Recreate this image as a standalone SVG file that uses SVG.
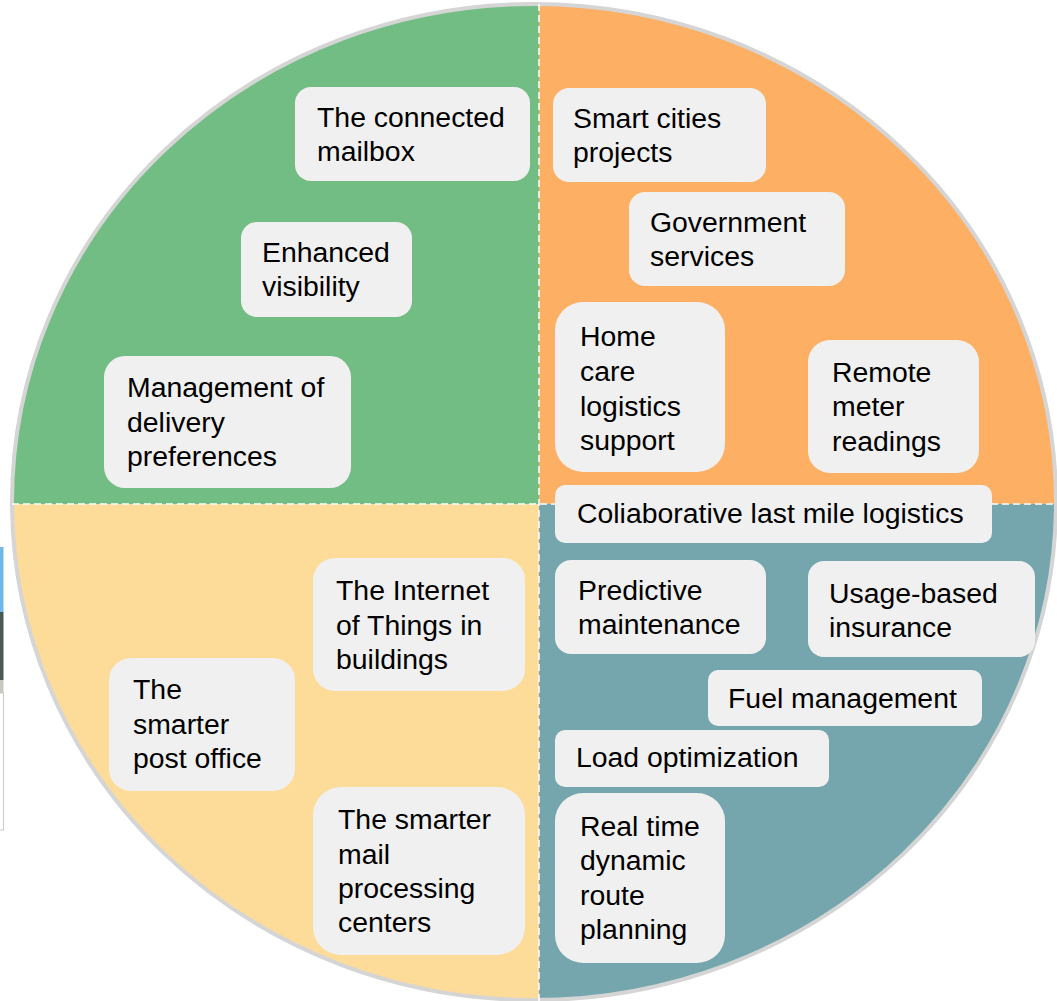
<svg xmlns="http://www.w3.org/2000/svg" width="1057" height="1001" viewBox="0 0 1057 1001">
<style>
.box{fill:#f0f0f0}
.t{font-family:"Liberation Sans",Arial,sans-serif;font-size:28.4px;fill:#000}
.div{stroke:#ffffff;stroke-width:1.5;stroke-dasharray:7 4;fill:none}
</style>
<defs>
<clipPath id="disc"><ellipse cx="534" cy="502" rx="522" ry="498"/></clipPath>
</defs>
<rect width="1057" height="1001" fill="#ffffff"/>
<g id="photo-fragment">
<rect x="0" y="547" width="3.5" height="65" fill="#6fb7e6"/>
<rect x="0" y="612" width="3.5" height="68" fill="#4a5a50"/>
<rect x="0" y="680" width="3.5" height="13" fill="#c8c8c0"/>
<rect x="-2" y="693" width="5.5" height="137" fill="#ffffff" stroke="#cfcfcf" stroke-width="1.2"/>
</g>
<g id="disc-quadrants" clip-path="url(#disc)">
<rect x="0" y="0" width="539" height="504" fill="#72bd83"/>
<rect x="539" y="0" width="520" height="504" fill="#fdaf63"/>
<rect x="0" y="504" width="539" height="500" fill="#fddb98"/>
<rect x="539" y="504" width="520" height="500" fill="#75a6ad"/>
</g>
<ellipse cx="534" cy="502" rx="522" ry="498" fill="none" stroke="#d5d5d5" stroke-width="4"/>
<g id="connectors">
<line class="div" x1="539" y1="4" x2="539" y2="1001"/>
<line class="div" x1="12" y1="504" x2="1057" y2="504"/>
</g>
<g id="n-connected-mailbox">
<rect class="box" x="295" y="87" width="235" height="94" rx="16"/>
<text class="t" x="317" y="127">The connected</text>
<text class="t" x="317" y="161">mailbox</text>
</g>
<g id="n-enhanced-visibility">
<rect class="box" x="241" y="222" width="171" height="95" rx="16"/>
<text class="t" x="262" y="262">Enhanced</text>
<text class="t" x="262" y="296">visibility</text>
</g>
<g id="n-delivery-preferences">
<rect class="box" x="104" y="356" width="247" height="132" rx="21"/>
<text class="t" x="127" y="397">Management of</text>
<text class="t" x="127" y="432">delivery</text>
<text class="t" x="127" y="466">preferences</text>
</g>
<g id="n-smart-cities">
<rect class="box" x="553" y="88" width="213" height="94" rx="16"/>
<text class="t" x="573" y="128">Smart cities</text>
<text class="t" x="573" y="162">projects</text>
</g>
<g id="n-government">
<rect class="box" x="629" y="192" width="216" height="94" rx="16"/>
<text class="t" x="650" y="232">Government</text>
<text class="t" x="650" y="266">services</text>
</g>
<g id="n-home-care">
<rect class="box" x="555" y="302" width="170" height="170" rx="28"/>
<text class="t" x="580" y="346">Home</text>
<text class="t" x="580" y="381">care</text>
<text class="t" x="580" y="416">logistics</text>
<text class="t" x="580" y="450">support</text>
</g>
<g id="n-remote-meter">
<rect class="box" x="808" y="340" width="171" height="133" rx="22"/>
<text class="t" x="832" y="382">Remote</text>
<text class="t" x="832" y="416">meter</text>
<text class="t" x="832" y="451">readings</text>
</g>
<g id="n-last-mile">
<rect class="box" x="555" y="485" width="437" height="58" rx="10"/>
<text class="t" x="577" y="523">Coliaborative last mile logistics</text>
</g>
<g id="n-predictive">
<rect class="box" x="555" y="560" width="211" height="94" rx="16"/>
<text class="t" x="578" y="600">Predictive</text>
<text class="t" x="578" y="634">maintenance</text>
</g>
<g id="n-usage-insurance">
<rect class="box" x="808" y="561" width="227" height="96" rx="16"/>
<text class="t" x="829" y="603">Usage-based</text>
<text class="t" x="829" y="637">insurance</text>
</g>
<g id="n-fuel">
<rect class="box" x="708" y="670" width="274" height="56" rx="10"/>
<text class="t" x="728" y="708">Fuel management</text>
</g>
<g id="n-load">
<rect class="box" x="555" y="730" width="274" height="57" rx="10"/>
<text class="t" x="576" y="767">Load optimization</text>
</g>
<g id="n-route-planning">
<rect class="box" x="555" y="793" width="170" height="170" rx="28"/>
<text class="t" x="580" y="836">Real time</text>
<text class="t" x="580" y="870">dynamic</text>
<text class="t" x="580" y="905">route</text>
<text class="t" x="580" y="939">planning</text>
</g>
<g id="n-iot-buildings">
<rect class="box" x="313" y="558" width="212" height="133" rx="22"/>
<text class="t" x="336" y="600">The Internet</text>
<text class="t" x="336" y="635">of Things in</text>
<text class="t" x="336" y="669">buildings</text>
</g>
<g id="n-post-office">
<rect class="box" x="109" y="658" width="186" height="133" rx="22"/>
<text class="t" x="133" y="699">The</text>
<text class="t" x="133" y="734">smarter</text>
<text class="t" x="133" y="768">post office</text>
</g>
<g id="n-mail-processing">
<rect class="box" x="313" y="787" width="212" height="168" rx="28"/>
<text class="t" x="338" y="829">The smarter</text>
<text class="t" x="338" y="864">mail</text>
<text class="t" x="338" y="898">processing</text>
<text class="t" x="338" y="932">centers</text>
</g>
</svg>
